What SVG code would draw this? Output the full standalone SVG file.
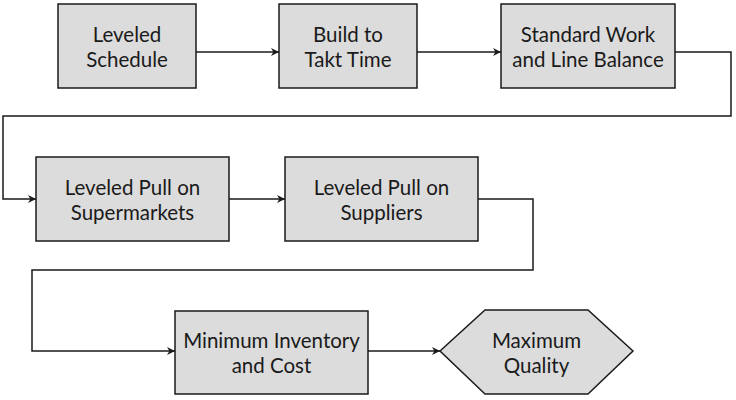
<svg xmlns="http://www.w3.org/2000/svg" width="736" height="400" viewBox="0 0 736 400">
<defs>
<marker id="ah" viewBox="0 0 10 10" refX="10" refY="5" markerWidth="8" markerHeight="8" markerUnits="userSpaceOnUse" orient="auto">
<path d="M0,0 L10,5 L0,10 L3,5 Z" fill="#1a1a1a"/>
</marker>
<style>
.n{fill:#dcdcdc;stroke:#1a1a1a;stroke-width:1.5}
.t{font-family:Lato,"Open Sans",sans-serif;font-size:20.5px;fill:#1a1a1a;text-anchor:middle}
.c{fill:none;stroke:#1a1a1a;stroke-width:1.5;marker-end:url(#ah)}
</style>
</defs>
<rect width="736" height="400" fill="#fff"/>
<g id="connectors">
<path class="c" d="M196,52 H279"/>
<path class="c" d="M417,52 H501"/>
<path class="c" d="M675,52 H731 V116 H3 V199 H36"/>
<path class="c" d="M229,199 H285"/>
<path class="c" d="M478,199 H533 V270 H32 V351 H175"/>
<path class="c" d="M368,351 H440"/>
</g>
<g id="n1"><rect class="n" x="58" y="4" width="138" height="84"/>
<text class="t" x="127" y="42">Leveled</text><text class="t" x="127" y="67">Schedule</text></g>
<g id="n2"><rect class="n" x="279" y="4" width="138" height="84"/>
<text class="t" x="348" y="42">Build to</text><text class="t" x="348" y="67">Takt Time</text></g>
<g id="n3"><rect class="n" x="501" y="4" width="174" height="84"/>
<text class="t" x="588" y="42">Standard Work</text><text class="t" x="588" y="67">and Line Balance</text></g>
<g id="n4"><rect class="n" x="36" y="157" width="193" height="84"/>
<text class="t" x="132.5" y="195">Leveled Pull on</text><text class="t" x="132.5" y="220">Supermarkets</text></g>
<g id="n5"><rect class="n" x="285" y="157" width="193" height="84"/>
<text class="t" x="381.5" y="195">Leveled Pull on</text><text class="t" x="381.5" y="220">Suppliers</text></g>
<g id="n6"><rect class="n" x="175" y="311" width="193" height="83"/>
<text class="t" x="271.5" y="348">Minimum Inventory</text><text class="t" x="271.5" y="373">and Cost</text></g>
<g id="n7"><polygon class="n" points="440,351 485,310 588,310 633,351 588,394 485,394"/>
<text class="t" x="536.5" y="348">Maximum</text><text class="t" x="536.5" y="373">Quality</text></g>
</svg>
